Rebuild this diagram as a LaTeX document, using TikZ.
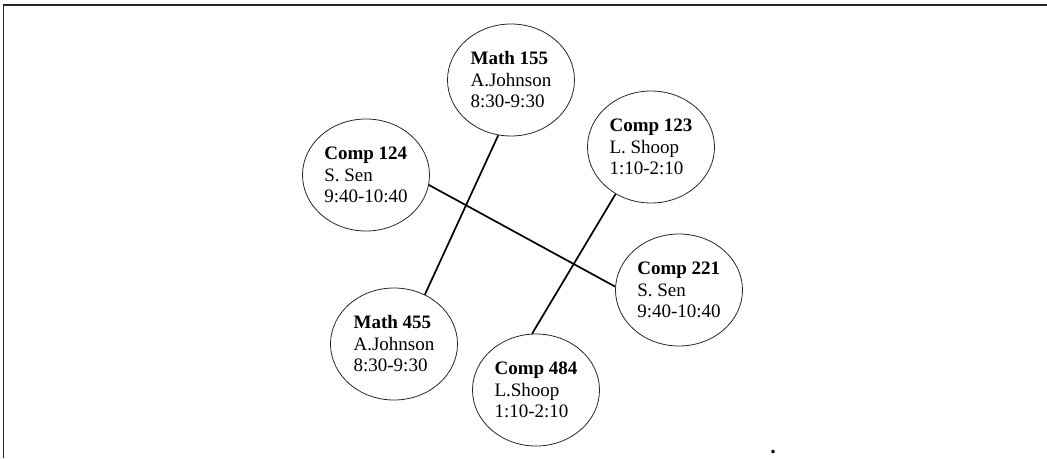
\documentclass[tikz,border=0pt]{standalone}
\usepackage{fontspec}
\setmainfont{Liberation Serif}
\usetikzlibrary{shapes.geometric}
\tikzset{
  course/.style={draw=black!85, line width=0.8pt, ellipse, inner sep=0pt,
    minimum width=127pt, minimum height=112pt, align=left,
    font=\fontsize{19}{21.5}\selectfont},
  link/.style={draw=black, line width=1.7pt},
  frame/.style={draw=black!85, line width=1.3pt}
}
\begin{document}
\begin{tikzpicture}[x=1pt,y=-1pt]
\useasboundingbox (0,0) rectangle (1047,458);
\coordinate (fl) at (3.5,458);
\coordinate (ft) at (3.5,5);
\coordinate (fr) at (1047,5);
\draw[frame] (fl) -- (ft) -- (fr);
\node[course] (m155) at (511,80) {\textbf{Math 155}\\A.Johnson\\8:30-9:30};
\node[course] (c124) at (366,175) {\textbf{Comp 124}\\S. Sen\\9:40-10:40};
\node[course] (c123) at (651,147) {\textbf{Comp 123}\\L. Shoop\\1:10-2:10};
\node[course] (c221) at (679,290) {\textbf{Comp 221}\\S. Sen\\9:40-10:40};
\node[course] (m455) at (394,344) {\textbf{Math 455}\\A.Johnson\\8:30-9:30};
\node[course] (c484) at (536,390) {\textbf{Comp 484}\\L.Shoop\\1:10-2:10};
\draw[link] (m155.257) -- (m455.58);
\draw[link] (c124.351) -- (c221.177);
\draw[link] (c123.233) -- (c484.94);
\node[inner sep=0pt, font=\fontsize{22}{22}\selectfont\bfseries, anchor=base] (dot) at (773,453) {.};
\end{tikzpicture}
\end{document}
